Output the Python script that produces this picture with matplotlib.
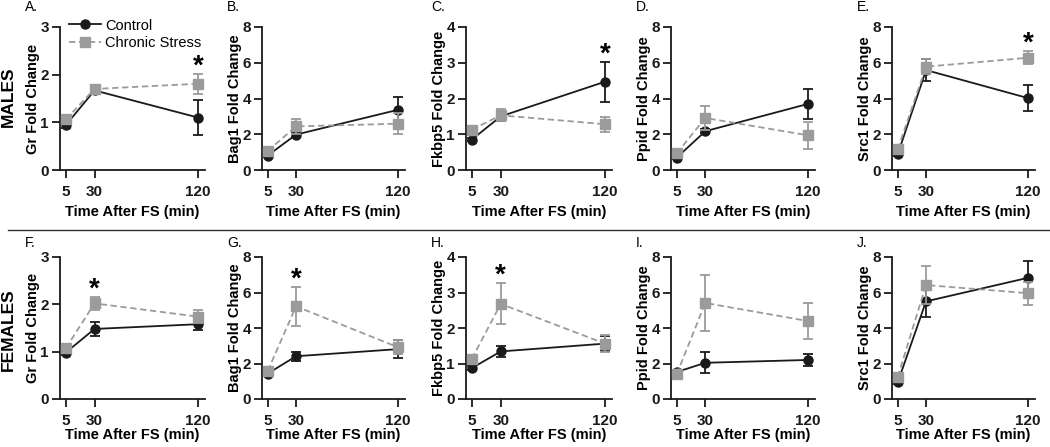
import matplotlib.pyplot as plt
from matplotlib.lines import Line2D
import numpy as np

plt.rcParams['font.family'] = ['Liberation Sans', 'DejaVu Sans']

# data
times = [5, 30, 120]
genes = ['Gr', 'Bag1', 'Fkbp5', 'Ppid', 'Src1']
y_top = [3, 8, 4, 8, 8]
letters_m = ['A.', 'B.', 'C.', 'D.', 'E.']
letters_f = ['F.', 'G.', 'H.', 'I.', 'J.']

male_ctrl = [[0.94, 1.67, 1.10], [0.81, 1.98, 3.37], [0.85, 1.50, 2.47],
             [0.69, 2.17, 3.70], [0.87, 5.59, 4.02]]
male_ctrl_err = [[0.05, 0.06, 0.37], [0.08, 0.15, 0.69], [0.05, 0.14, 0.56],
                 [0.06, 0.12, 0.84], [0.08, 0.60, 0.74]]
male_cs = [[1.06, 1.70, 1.81], [1.06, 2.44, 2.59], [1.13, 1.53, 1.28],
           [0.93, 2.91, 1.94], [1.15, 5.78, 6.28]]
male_cs_err = [[0.05, 0.07, 0.21], [0.08, 0.43, 0.60], [0.05, 0.17, 0.21],
               [0.08, 0.69, 0.74], [0.08, 0.43, 0.37]]

female_ctrl = [[0.98, 1.48, 1.58], [1.43, 2.41, 2.81], [0.87, 1.34, 1.56],
               [1.52, 2.04, 2.20], [0.93, 5.50, 6.83]]
female_ctrl_err = [[0.04, 0.15, 0.12], [0.10, 0.25, 0.50], [0.05, 0.15, 0.22],
                   [0.08, 0.58, 0.34], [0.06, 0.87, 0.93]]
female_cs = [[1.07, 2.02, 1.74], [1.57, 5.22, 2.91], [1.13, 2.68, 1.56],
             [1.39, 5.41, 4.39], [1.24, 6.42, 5.96]]
female_cs_err = [[0.04, 0.13, 0.14], [0.10, 1.10, 0.40], [0.06, 0.58, 0.24],
                 [0.10, 1.57, 1.02], [0.10, 1.05, 0.65]]

# time point with significant difference (None = no asterisk)
male_sig = [120, None, 120, None, 120]
female_sig = [30, 30, 30, None, None]

W, H = 1050, 447
fig = plt.figure(figsize=(W / 100, H / 100), dpi=100)

lefts = [60, 262, 466, 671, 892]
widths = [145, 143, 146, 144, 143]
rows = [(27, 170), (257, 399)]
letter_gap = [20, 14]
xlabel_pad = [4, 0]

black = '#1a1a1a'
grey = '#9b9b9b'


def draw_panel(left, width, top, bottom, ymax, gene, ctrl, ctrl_err, cs, cs_err, sig,
               letter, gap, xpad, legend=False):
    ax = fig.add_axes([left / W, 1 - bottom / H, width / W, (bottom - top) / H])
    ax.errorbar(times, ctrl, yerr=ctrl_err, color=black, marker='o', markersize=6.5,
                linewidth=1.3, elinewidth=1.3, capsize=3.5, capthick=1.3,
                zorder=3, clip_on=False)
    ax.errorbar(times, cs, yerr=cs_err, color=grey, marker='s', markersize=6.5,
                linestyle='--', dashes=(3.5, 2), linewidth=1.3, elinewidth=1.3,
                capsize=3.5, capthick=1.3, zorder=4, clip_on=False)
    if sig is not None:
        i = times.index(sig)
        top_err = max(cs[i] + cs_err[i], ctrl[i] + ctrl_err[i])
        ax.annotate('*', xy=(sig, top_err), xytext=(0, -4), textcoords='offset points',
                    ha='center', va='bottom', fontsize=20, fontweight='bold')
    ax.set_xlim(0, 126)
    ax.set_ylim(0, ymax)
    step = 1 if ymax <= 4 else 2
    ax.set_yticks(np.arange(0, ymax + 0.1, step))
    ax.set_xticks(times)
    for s in ['top', 'right']:
        ax.spines[s].set_visible(False)
    for s in ['left', 'bottom']:
        ax.spines[s].set_linewidth(1.3)
        ax.spines[s].set_color(black)
    ax.tick_params(width=1.3, length=5.5, labelsize=11, colors=black)
    ax.tick_params(axis='x', pad=5.5)
    ax.tick_params(axis='y', pad=2.5)
    for lab in ax.get_xticklabels() + ax.get_yticklabels():
        lab.set_fontweight('bold')
    ax.set_xlabel('Time After FS (min)', fontsize=10.5, fontweight='bold', labelpad=xpad)
    ax.set_ylabel(gene + ' Fold Change', fontsize=10.5, fontweight='bold', labelpad=0)
    fig.text((left - 35) / W, 1 - (top - gap) / H, letter, fontsize=10, va='center', ha='left')
    if legend:
        handles = [Line2D([], [], color=black, marker='o', markersize=6.5, linewidth=1.3),
                   Line2D([], [], color=grey, marker='s', markersize=6.5, linewidth=1.3,
                          linestyle='--', dashes=(3.5, 2))]
        ax.legend(handles, ['Control', 'Chronic Stress'], loc='upper left',
                  bbox_to_anchor=(0.0, 1.12), frameon=False,
                  fontsize=10.5, handlelength=2.2, handletextpad=0.3,
                  labelspacing=0.25, borderaxespad=0.2)
    return ax


for k in range(5):
    draw_panel(lefts[k], widths[k], rows[0][0], rows[0][1], y_top[k], genes[k],
               male_ctrl[k], male_ctrl_err[k], male_cs[k], male_cs_err[k],
               male_sig[k], letters_m[k], letter_gap[0], xlabel_pad[0], legend=(k == 0))
    draw_panel(lefts[k], widths[k], rows[1][0], rows[1][1], y_top[k], genes[k],
               female_ctrl[k], female_ctrl_err[k], female_cs[k], female_cs_err[k],
               female_sig[k], letters_f[k], letter_gap[1], xlabel_pad[1])

fig.text(8 / W, 1 - 97 / H, 'MALES', rotation=90, fontsize=12.5, fontweight='bold',
         ha='center', va='center')
fig.text(8 / W, 1 - 330 / H, 'FEMALES', rotation=90, fontsize=12.5, fontweight='bold',
         ha='center', va='center')
fig.add_artist(Line2D([8 / W, 1.0], [1 - 230 / H, 1 - 230 / H], color='#333333',
                      linewidth=1.0, transform=fig.transFigure))

fig.savefig('out.png', dpi=100)
